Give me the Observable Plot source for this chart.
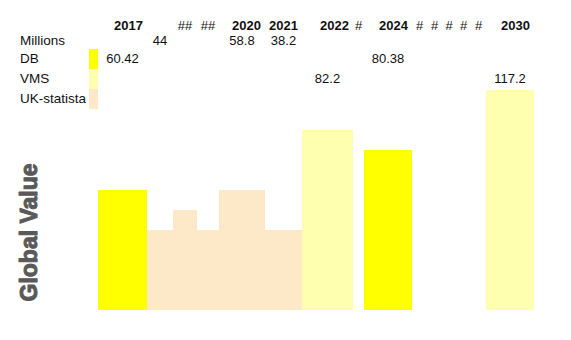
<!DOCTYPE html>
<html>
<head>
<meta charset="utf-8">
<script src="https://cdn.jsdelivr.net/npm/d3@7"></script>
<script src="https://cdn.jsdelivr.net/npm/@observablehq/plot@0.6"></script>
<style>
  body { margin: 0; background: #fff; }
  #wrap { position: relative; width: 571px; height: 340px; overflow: hidden; font-family: "Liberation Sans", Arial, sans-serif; }
  #wrap svg { position: absolute; left: 0; top: 0; }
  #tbl { position: absolute; left: 0; top: 18px; border-collapse: collapse; table-layout: fixed; font-size: 13px; color: #111; }
  #tbl td { padding: 0; white-space: nowrap; overflow: visible; }
  #tbl tr.hdr td { height: 15px; line-height: 15px; }
  #tbl tr.mil td { height: 16px; line-height: 16px; }
  #tbl tr.ser td { height: 20px; line-height: 20px; }
  #tbl td.lab { padding-left: 20px; text-align: left; font-size: 13.5px; }
  #tbl td.year { text-align: right; padding-right: 4px; font-weight: bold; }
  #tbl td.hash { text-align: center; }
  #tbl td.num { text-align: center; }
</style>
</head>
<body>
<div id="wrap"><table id="tbl"></table></div>
<script>
// ---- data ----
const columns   = ["2017", "", "##", "##", "2020", "2021", "2022", "#", "2024", "#", "#", "#", "#", "#", "2030"];
const millions  = [null, 44, null, null, 58.8, 38.2, null, null, null, null, null, null, null, null, null];
const dbRow     = [60.42, null, null, null, null, null, null, null, 80.38, null, null, null, null, null, null];
const vmsRow    = [null, null, null, null, null, null, 82.2, null, null, null, null, null, null, null, 117.2];
const ukRow     = [null, null, null, null, null, null, null, null, null, null, null, null, null, null, null];
const barSeries = ["DB", "UK-statista", "UK-statista", "UK-statista", "UK-statista", "UK-statista", "VMS", null, "DB", null, null, null, null, null, "VMS"];
const barValues = [60, 40, 50, 40, 60, 40, 90, null, 80, null, null, null, null, null, 110];
const seriesNames = ["DB", "VMS", "UK-statista"];
const yLabel = "Global Value";

// ---- layout / style (spreadsheet column widths in px) ----
const colWidths = [49, 26, 24, 22, 46, 37, 51, 11, 48, 15, 15, 14, 15, 15, 48];
const seriesColors = ["#FFFF00", "#FFFFB0", "#FDE9C8"];

const edges = [0];
colWidths.forEach(w => edges.push(edges[edges.length - 1] + w));
const total = edges[edges.length - 1];

const bars = columns.map((c, i) => ({col: c, x1: edges[i], x2: edges[i + 1], series: barSeries[i], value: barValues[i]}))
  .filter(d => d.series != null);

const chart = Plot.plot({
  width: 571,
  height: 340,
  marginLeft: 98,
  marginRight: 571 - 98 - total,
  marginTop: 10,
  marginBottom: 30,
  x: {domain: [0, total], axis: null},
  y: {domain: [0, 150], axis: null},
  color: {domain: seriesNames, range: seriesColors},
  style: {background: "transparent"},
  marks: [
    Plot.rectY(bars, {x1: "x1", x2: "x2", y: "value", fill: "series"}),
    Plot.text([yLabel], {
      text: d => d, frameAnchor: "bottom-left", rotate: -90, textAnchor: "start",
      dx: -62, dy: -9, fontSize: 23, fontWeight: "bold", fill: "#595959",
      stroke: "#595959", strokeWidth: 1,
      fontFamily: "Liberation Sans, Arial, sans-serif"
    })
  ]
});
const wrap = document.getElementById("wrap");
wrap.insertBefore(chart, wrap.firstChild);

// ---- table overlay ----
const tbl = document.getElementById("tbl");
const cg = document.createElement("colgroup");
[89, 9, ...colWidths].forEach(w => { const c = document.createElement("col"); c.style.width = w + "px"; cg.appendChild(c); });
tbl.appendChild(cg);

function addRow(cls, label, swatch, cells, cellClass) {
  const tr = document.createElement("tr");
  tr.className = cls;
  const l = document.createElement("td"); l.className = "lab"; l.textContent = label; tr.appendChild(l);
  const s = document.createElement("td"); if (swatch) s.style.background = swatch; tr.appendChild(s);
  cells.forEach((v, i) => {
    const td = document.createElement("td");
    if (v != null && v !== "") { td.textContent = v; td.className = cellClass(v, i); }
    tr.appendChild(td);
  });
  tbl.appendChild(tr);
}
addRow("hdr", "", null, columns, v => (v.startsWith("#") ? "hash" : "year"));
addRow("mil", "Millions", null, millions, () => "num");
addRow("ser", seriesNames[0], seriesColors[0], dbRow, () => "num");
addRow("ser", seriesNames[1], seriesColors[1], vmsRow, () => "num");
addRow("ser", seriesNames[2], seriesColors[2], ukRow, () => "num");
</script>
</body>
</html>
